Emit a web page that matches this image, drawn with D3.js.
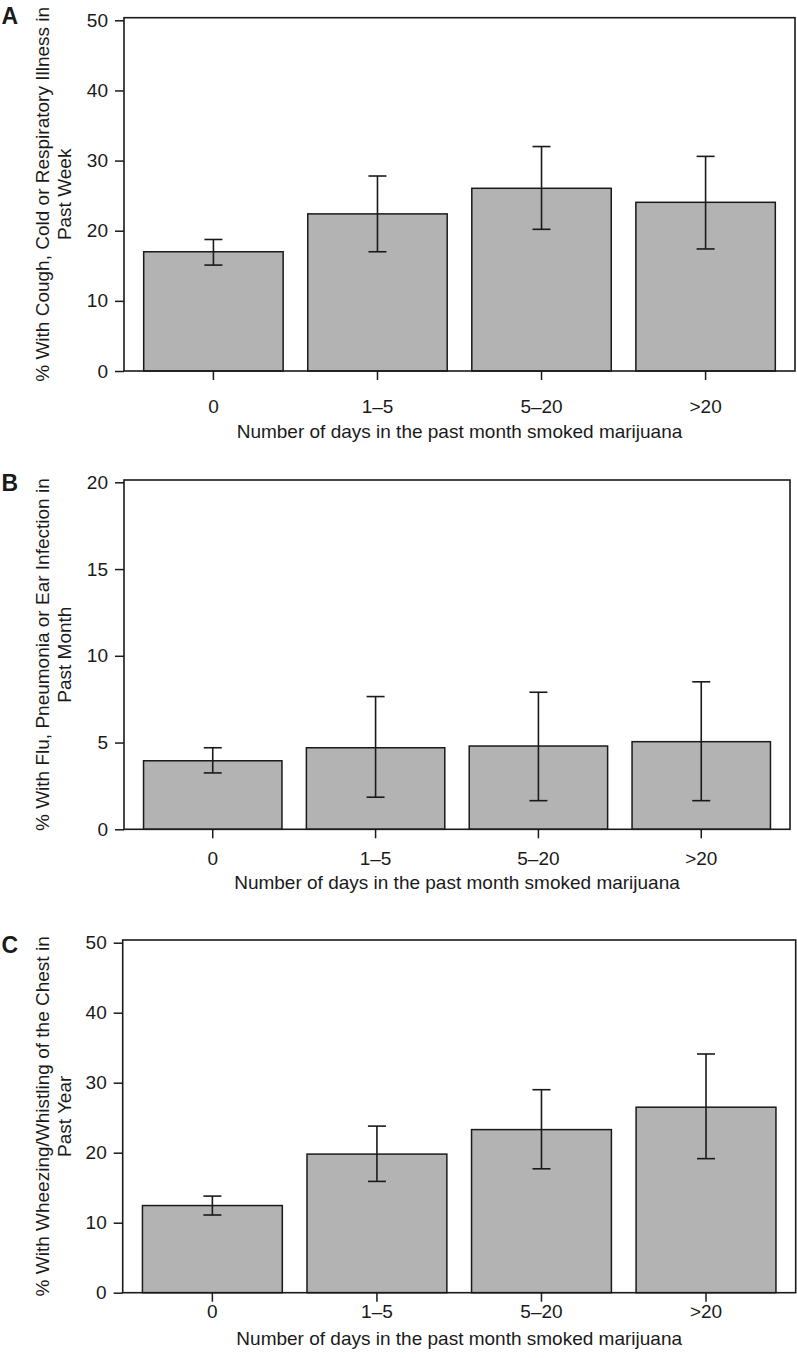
<!DOCTYPE html>
<html>
<head>
<meta charset="utf-8">
<script src="https://cdn.jsdelivr.net/npm/d3@7"></script>
<style>
  html, body { margin: 0; padding: 0; background: #fff; }
  svg text { font-family: "Liberation Sans", Arial, Helvetica, sans-serif; fill: #1a1a1a; }
</style>
</head>
<body>
<svg id="chart" width="797" height="1358"></svg>
<script>
// ---- Data ----
const categories = ["0", "1\u20135", "5\u201320", ">20"];
const xAxisTitle = "Number of days in the past month smoked marijuana";

const coughValues = [17.0, 22.4, 26.05, 24.05];
const coughLower  = [15.1, 17.0, 20.2, 17.4];
const coughUpper  = [18.75, 27.8, 32.0, 30.6];
const coughTicks  = [0, 10, 20, 30, 40, 50];

const fluValues = [3.95, 4.7, 4.8, 5.05];
const fluLower  = [3.25, 1.85, 1.65, 1.65];
const fluUpper  = [4.7, 7.65, 7.9, 8.5];
const fluTicks  = [0, 5, 10, 15, 20];

const wheezeValues = [12.45, 19.8, 23.3, 26.5];
const wheezeLower  = [11.1, 15.9, 17.7, 19.15];
const wheezeUpper  = [13.8, 23.8, 29.0, 34.1];
const wheezeTicks  = [0, 10, 20, 30, 40, 50];

const panelLetters = ["A", "B", "C"];
const yTitles = [
  ["% With Cough, Cold or Respiratory Illness in", "Past Week"],
  ["% With Flu, Pneumonia or Ear Infection in", "Past Month"],
  ["% With Wheezing/Whistling of the Chest in", "Past Year"]
];

// ---- Layout (pixels) ----
const layouts = [
  { left: 124, right: 795, boxTop: 17.7, yTop: 20.3, y0: 371, tickBase: 42.3, titleBase: 67.3, letterBase: 24 },
  { left: 124, right: 790, boxTop: 480, yTop: 482.3, y0: 829.3, tickBase: 35.7, titleBase: 59.7, letterBase: 491 },
  { left: 122.7, right: 795.7, boxTop: 940, yTop: 942.7, y0: 1292.7, tickBase: 25.6, titleBase: 52.3, letterBase: 953 }
];

const panels = [
  { values: coughValues, lower: coughLower, upper: coughUpper, ticks: coughTicks },
  { values: fluValues, lower: fluLower, upper: fluUpper, ticks: fluTicks },
  { values: wheezeValues, lower: wheezeLower, upper: wheezeUpper, ticks: wheezeTicks }
];

const svg = d3.select("#chart");
const ink = "#1a1a1a";
const fontSize = 19;

panels.forEach((p, i) => {
  const L = layouts[i];
  const g = svg.append("g");
  const yMax = p.ticks[p.ticks.length - 1];

  const x = d3.scaleBand()
    .domain(categories)
    .range([L.left, L.right])
    .paddingInner(0.15)
    .paddingOuter(0.12);

  const y = d3.scaleLinear()
    .domain([0, yMax])
    .range([L.y0, L.yTop]);

  const data = categories.map((c, k) => ({ c, v: p.values[k], lo: p.lower[k], hi: p.upper[k] }));

  // bars
  g.selectAll("rect.bar").data(data).enter().append("rect")
    .attr("class", "bar")
    .attr("x", d => x(d.c))
    .attr("width", x.bandwidth())
    .attr("y", d => y(d.v))
    .attr("height", d => y(0) - y(d.v))
    .attr("fill", "#b3b3b3")
    .attr("stroke", ink)
    .attr("stroke-width", 1.5);

  // error bars
  const cap = 9;
  const eb = g.selectAll("g.err").data(data).enter().append("g").attr("class", "err")
    .attr("stroke", ink).attr("stroke-width", 1.6).attr("fill", "none");
  eb.append("line")
    .attr("x1", d => x(d.c) + x.bandwidth() / 2).attr("x2", d => x(d.c) + x.bandwidth() / 2)
    .attr("y1", d => y(d.lo)).attr("y2", d => y(d.hi));
  eb.append("line")
    .attr("x1", d => x(d.c) + x.bandwidth() / 2 - cap).attr("x2", d => x(d.c) + x.bandwidth() / 2 + cap)
    .attr("y1", d => y(d.hi)).attr("y2", d => y(d.hi));
  eb.append("line")
    .attr("x1", d => x(d.c) + x.bandwidth() / 2 - cap).attr("x2", d => x(d.c) + x.bandwidth() / 2 + cap)
    .attr("y1", d => y(d.lo)).attr("y2", d => y(d.lo));

  // box
  g.append("rect")
    .attr("x", L.left).attr("y", L.boxTop)
    .attr("width", L.right - L.left).attr("height", L.y0 - L.boxTop)
    .attr("fill", "none").attr("stroke", ink).attr("stroke-width", 1.6);

  // y axis
  const yAxis = g.append("g")
    .attr("transform", `translate(${L.left},0)`)
    .call(d3.axisLeft(y).tickValues(p.ticks).tickSize(9).tickPadding(7).tickFormat(d3.format("d")));
  yAxis.select(".domain").remove();
  yAxis.selectAll(".tick line").attr("stroke", ink).attr("stroke-width", 1.5);
  yAxis.selectAll(".tick text").attr("font-size", fontSize).style("font-family", "Liberation Sans, Arial, sans-serif").attr("fill", ink);

  // x axis
  const xAxis = g.append("g")
    .attr("transform", `translate(0,${L.y0})`)
    .call(d3.axisBottom(x).tickSize(9));
  xAxis.select(".domain").remove();
  xAxis.selectAll(".tick line").attr("stroke", ink).attr("stroke-width", 1.5);
  xAxis.selectAll(".tick text")
    .attr("font-size", fontSize)
    .style("font-family", "Liberation Sans, Arial, sans-serif")
    .attr("fill", ink)
    .attr("y", L.tickBase).attr("dy", 0);

  // x axis title
  g.append("text")
    .attr("x", (L.left + L.right) / 2)
    .attr("y", L.y0 + L.titleBase)
    .attr("text-anchor", "middle")
    .attr("font-size", fontSize)
    .text(xAxisTitle);

  // y axis title (two lines)
  const cy = (L.boxTop + L.y0) / 2;
  [42, 64].forEach((cx, j) => {
    g.append("text")
      .attr("transform", `translate(${cx},${cy}) rotate(-90)`)
      .attr("text-anchor", "middle")
      .attr("dy", "0.35em")
      .attr("font-size", fontSize)
      .text(yTitles[i][j]);
  });

  // panel letter
  g.append("text")
    .attr("x", 1.5)
    .attr("y", L.letterBase)
    .attr("font-size", 23)
    .attr("font-weight", "bold")
    .text(panelLetters[i]);
});
</script>
</body>
</html>
